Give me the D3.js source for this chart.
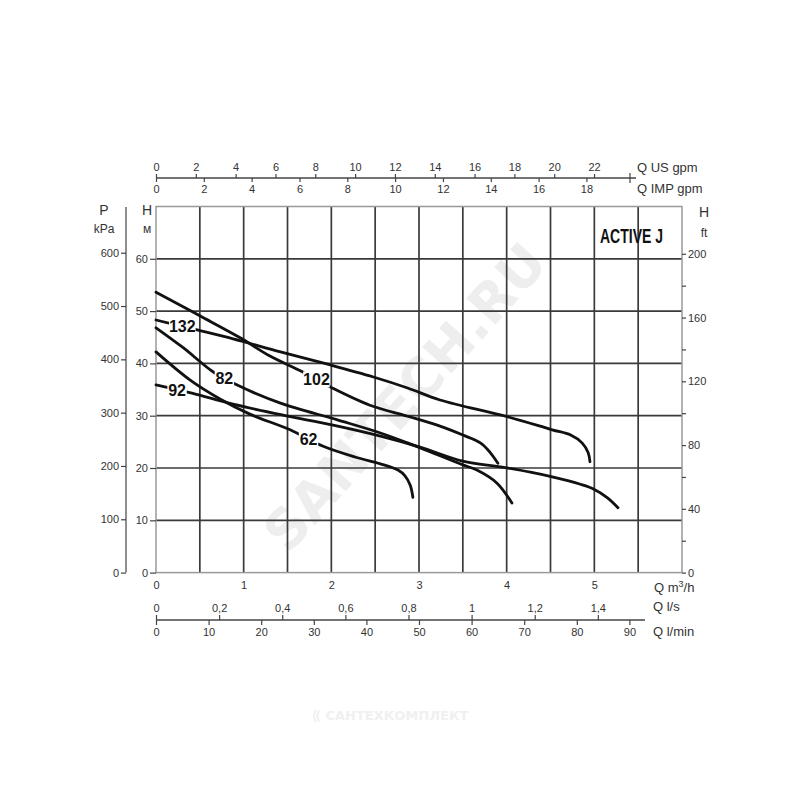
<!DOCTYPE html>
<html><head><meta charset="utf-8">
<script src="https://cdn.jsdelivr.net/npm/d3@7"></script>
<style>
html,body{margin:0;padding:0;background:#fff;}
svg{display:block;font-family:"Liberation Sans",Arial,sans-serif;}
</style></head>
<body><svg id="c" width="800" height="800"></svg>
<script>
// ---- data (Q in m3/h, H in m) ----
const q132 = [0, 0.47, 0.88, 1.42, 1.99, 2.48, 2.87, 3.24, 4.01, 4.52, 4.73, 4.86, 4.93, 4.95];
const h132 = [48.3, 46.4, 44.7, 42.2, 39.7, 37.4, 35.3, 33.0, 29.8, 27.3, 26.3, 24.8, 22.9, 21.2];
const q102 = [0, 0.50, 0.96, 1.30, 1.67, 2.01, 2.44, 2.87, 3.24, 3.50, 3.70, 3.81, 3.90];
const h102 = [53.6, 49.1, 44.9, 41.4, 38.4, 35.3, 32.0, 29.9, 28.0, 26.3, 24.8, 23.0, 20.9];
const q82 = [0, 0.31, 0.65, 0.92, 1.42, 2.07, 2.56, 2.87, 3.50, 3.66, 3.89, 4.06];
const h82 = [46.8, 43.0, 38.4, 35.9, 32.4, 29.2, 26.7, 24.8, 20.6, 19.6, 17.1, 13.3];
const q92 = [0, 0.41, 0.88, 1.45, 2.02, 2.56, 3.01, 3.50, 3.93, 4.27, 4.52, 4.84, 4.99, 5.15, 5.27];
const h92 = [35.9, 34.3, 32.2, 30.1, 28.2, 26.1, 24.0, 21.3, 20.2, 19.2, 18.3, 16.9, 16.0, 14.3, 12.4];
const q62 = [0, 0.39, 0.73, 1.07, 1.53, 1.90, 2.27, 2.56, 2.76, 2.84, 2.90, 2.93];
const h62 = [42.2, 36.8, 33.2, 30.3, 27.3, 24.2, 22.1, 20.8, 19.6, 18.5, 16.7, 14.4];
const curveNames = ["132", "102", "82", "92", "62"];
const labelQ = [0.30, 1.83, 0.78, 0.24, 1.74];

const ticksM3h = [0, 1, 2, 3, 4, 5];
const ticksH = [0, 10, 20, 30, 40, 50, 60];
const ticksKPa = [0, 100, 200, 300, 400, 500, 600];
const ticksFt = [0, 20, 40, 60, 80, 100, 120, 140, 160, 180, 200];
const ticksUS = [0, 2, 4, 6, 8, 10, 12, 14, 16, 18, 20, 22];
const ticksIMP = [0, 2, 4, 6, 8, 10, 12, 14, 16, 18];
const ticksLs = [0, 0.2, 0.4, 0.6, 0.8, 1, 1.2, 1.4];
const ticksLmin = [0, 10, 20, 30, 40, 50, 60, 70, 80, 90];
const title = "ACTIVE J";

// ---- layout ----
const svg = d3.select("#c");
const x = d3.scaleLinear().domain([0, 6]).range([156, 682]);
const y = d3.scaleLinear().domain([0, 70]).range([572.6, 206.5]);
const ink = "#333";
const fmtComma = d => String(d).replace(".", ",");
const fmtPlain = d => String(d);

// watermarks
svg.append("text").attr("transform", "translate(408,400) rotate(-48)")
  .attr("text-anchor", "middle").attr("dominant-baseline", "middle")
  .style("font-family", "'DejaVu Sans',sans-serif").style("font-weight", "bold")
  .style("font-size", "54px").attr("fill", "#eeeeee").text("SANTECH.RU");
svg.append("text").attr("x", 390).attr("y", 720).attr("text-anchor", "middle")
  .style("font-family", "'DejaVu Sans',sans-serif").style("font-weight", "bold")
  .style("font-size", "13px").attr("fill", "#f0f0f0").text("⟪ САНТЕХКОМПЛЕКТ");

// grid
const grid = svg.append("g");
d3.range(0.5, 6, 0.5).forEach(v => {
  grid.append("line").attr("x1", x(v)).attr("x2", x(v)).attr("y1", y(70)).attr("y2", y(0))
    .attr("stroke", "#3a3a3a").attr("stroke-width", 1.7);
});
d3.range(10, 70, 10).forEach(v => {
  grid.append("line").attr("x1", x(0)).attr("x2", x(6)).attr("y1", y(v)).attr("y2", y(v))
    .attr("stroke", "#3a3a3a").attr("stroke-width", 1.7);
});
// frame
svg.append("rect").attr("x", x(0)).attr("y", y(70)).attr("width", x(6) - x(0)).attr("height", y(0) - y(70))
  .attr("fill", "none").attr("stroke", "#999").attr("stroke-width", 1.5);

function styleAxis(g, size) {
  g.select(".domain").remove();
  g.selectAll(".tick line").attr("stroke", "#444").attr("stroke-width", 1.2);
  g.selectAll(".tick text").attr("fill", ink).style("font-size", (size || 11) + "px")
    .style("font-family", "'Liberation Sans',Arial,sans-serif");
}

// left H (m) axis
const gH = svg.append("g").attr("transform", `translate(${x(0)},0)`)
  .call(d3.axisLeft(y).tickValues(ticksH).tickSize(6).tickPadding(2).tickFormat(fmtPlain));
styleAxis(gH);
// kPa axis
const gK = svg.append("g").attr("transform", "translate(126,0)")
  .call(d3.axisLeft(d3.scaleLinear().domain([0, 700]).range([y(0), y(700 / 9.81)])).tickValues(ticksKPa).tickSize(5).tickPadding(2).tickFormat(fmtPlain));
styleAxis(gK);
svg.append("line").attr("x1", 126).attr("x2", 126).attr("y1", 207).attr("y2", y(0)).attr("stroke", "#444").attr("stroke-width", 1.2);
// ft axis
const ftScale = d3.scaleLinear().domain([0, 70 / 0.3048]).range([y(0), y(70)]);
const gF = svg.append("g").attr("transform", `translate(${x(6)},0)`)
  .call(d3.axisRight(ftScale).tickValues(ticksFt).tickSize(4).tickPadding(2).tickFormat(d => d % 40 === 0 ? String(d) : ""));
styleAxis(gF);

// axis titles
const t = (xx, yy, s, anchor, size) => svg.append("text").attr("x", xx).attr("y", yy)
  .attr("text-anchor", anchor || "middle").attr("fill", ink).style("font-size", (size || 12) + "px").text(s);
t(104, 215, "P", "middle", 14); t(104, 233, "kPa", "middle", 12);
t(147, 215, "H", "middle", 14); t(147, 233, "м", "middle", 12);
t(704, 217, "H", "middle", 14); t(704, 237, "ft", "middle", 12);

// bottom m3/h labels
const gQ = svg.append("g").attr("transform", `translate(0,${y(0)})`)
  .call(d3.axisBottom(x).tickValues(ticksM3h).tickSize(0).tickPadding(9).tickFormat(fmtPlain));
styleAxis(gQ);
const qm = t(654, 592, "", "start", 13);
qm.append("tspan").text("Q m");
qm.append("tspan").attr("dy", -5).style("font-size", "9px").text("3");
qm.append("tspan").attr("dy", 5).text("/h");

// l/s and l/min axis
const yl = 620;
svg.append("line").attr("x1", x(0)).attr("x2", 645).attr("y1", yl).attr("y2", yl).attr("stroke", "#444").attr("stroke-width", 1.3);
const gLs = svg.append("g").attr("transform", `translate(0,${yl})`)
  .call(d3.axisTop(d3.scaleLinear().domain([0, 6 / 3.6]).range([x(0), x(6)])).tickValues(ticksLs).tickSize(5).tickPadding(3).tickFormat(fmtComma));
styleAxis(gLs);
const gLm = svg.append("g").attr("transform", `translate(0,${yl})`)
  .call(d3.axisBottom(d3.scaleLinear().domain([0, 100]).range([x(0), x(6)])).tickValues(ticksLmin).tickSize(5).tickPadding(3).tickFormat(fmtPlain));
styleAxis(gLm);
t(653, 611, "Q l/s", "start", 13);
t(653, 636, "Q l/min", "start", 13);

// top gpm axes
const yt = 178;
svg.append("line").attr("x1", x(0)).attr("x2", 636).attr("y1", yt).attr("y2", yt).attr("stroke", "#444").attr("stroke-width", 1.3);
svg.append("line").attr("x1", 630).attr("x2", 630).attr("y1", yt - 5).attr("y2", yt + 5).attr("stroke", "#444").attr("stroke-width", 1.2);
const gUS = svg.append("g").attr("transform", `translate(0,${yt})`)
  .call(d3.axisTop(d3.scaleLinear().domain([0, 6 / 0.22712]).range([x(0), x(6)])).tickValues(ticksUS).tickSize(4).tickPadding(3).tickFormat(fmtPlain));
styleAxis(gUS);
const gIMP = svg.append("g").attr("transform", `translate(0,${yt})`)
  .call(d3.axisBottom(d3.scaleLinear().domain([0, 6 / 0.27277]).range([x(0), x(6)])).tickValues(ticksIMP).tickSize(4).tickPadding(3).tickFormat(fmtPlain));
styleAxis(gIMP);
t(637, 172, "Q US gpm", "start", 13);
t(637, 193, "Q IMP gpm", "start", 13);

// title
svg.append("text").attr("x", 600).attr("y", 243).attr("textLength", 63).attr("lengthAdjust", "spacingAndGlyphs")
  .style("font-family", "'Liberation Sans Narrow','Liberation Sans',sans-serif").style("font-weight", "bold")
  .style("font-size", "20px").attr("fill", "#111").text(title);

// curves
const curves = [[q132, h132], [q102, h102], [q82, h82], [q92, h92], [q62, h62]];
const line = d3.line().x(d => x(d[0])).y(d => y(d[1])).curve(d3.curveCatmullRom.alpha(0.5));
const gc = svg.append("g");
curves.forEach(([qs, hs]) => {
  gc.append("path").datum(qs.map((q, i) => [q, hs[i]])).attr("d", line)
    .attr("fill", "none").attr("stroke", "#111").attr("stroke-width", 2.8).attr("stroke-linecap", "round");
});
// labels
curves.forEach(([qs, hs], i) => {
  const q = labelQ[i];
  const h = d3.scaleLinear().domain(qs).range(hs)(q);
  const cx = x(q), cy = y(h);
  const w = curveNames[i].length * 7.2 + 5;
  svg.append("rect").attr("x", cx - w / 2).attr("y", cy - 8).attr("width", w).attr("height", 16).attr("fill", "#fff");
  svg.append("text").attr("x", cx).attr("y", cy + 6).attr("text-anchor", "middle")
    .style("font-family", "'Liberation Sans Narrow','Liberation Sans',sans-serif").style("font-weight", "bold")
    .style("font-size", "16px").attr("fill", "#111").text(curveNames[i]);
});
</script></body></html>
